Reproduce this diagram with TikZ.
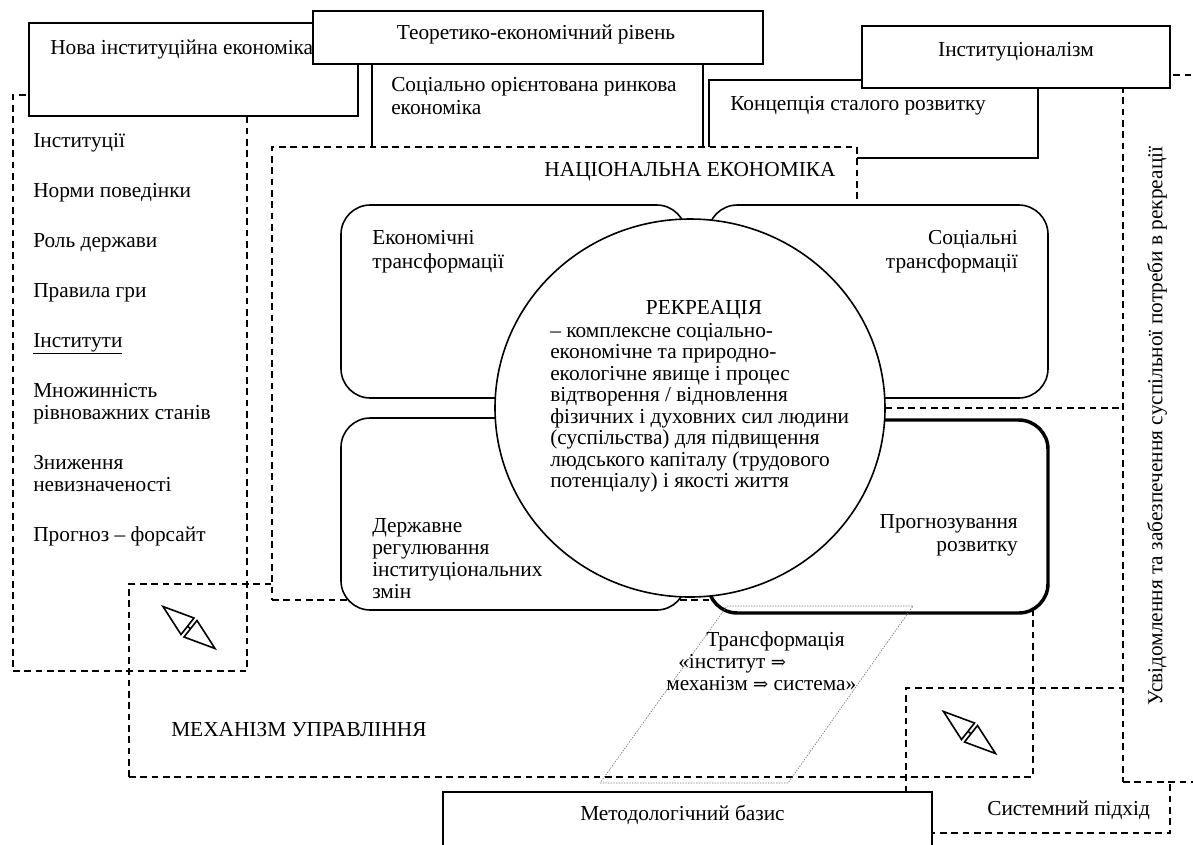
\documentclass[tikz,border=0pt]{standalone}
\usepackage{fontspec}
\setmainfont{Liberation Serif}
\newfontfamily\arrowfont[Scale=0.85]{DejaVu Serif}
\usetikzlibrary{fit,shapes.geometric}
\begin{document}
\begin{tikzpicture}[x=0.75pt,y=-0.75pt,
  txt/.style={font=\fontsize{16}{18}\selectfont, inner sep=0pt},
  area/.style={inner sep=0pt, outer sep=0pt},
  sbox/.style={area, draw=black, fill=white, line width=1.2pt},
  dbox/.style={area, draw=black, line width=1.2pt, dash pattern=on 5pt off 3.5pt},
  dline/.style={draw=black, line width=1.2pt, dash pattern=on 5pt off 3.5pt},
  rbox/.style={area, draw=black, fill=white, line width=1.2pt, rounded corners=22pt},
  pline/.style={draw=black!55, line width=0.5pt, dash pattern=on 1pt off 1pt},
  duo/.pic={
    \draw[line width=1.2pt, line join=miter] (-26,-21) -- (-8,7) -- (5,-9.5) -- cycle;
    \draw[line width=1.2pt, line join=miter] (26,21) -- (8,-7) -- (-5,9.5) -- cycle;
    \draw[line width=1.2pt] (-1.5,-1.25) -- (1.5,1.25);
  }
]
\useasboundingbox (0,0) rectangle (1193,844);
\clip (0,0) rectangle (1193,844);

% dashed frames in the back
\node[dbox, fit={(13,95) (247,671)}] (list) {};
\node[dbox, fit={(129,584) (1033,777)}] (mech) {};
\node[dbox, fit={(906,688) (1170,833)}] (sys) {};
\node[sbox, fit={(443,792) (932,870)}] (meth) {};
\node[dbox, fill=white, fit={(1123,75) (1240,782)}] (usv) {};

% top boxes
\node[sbox, fit={(29,23) (358,116)}] (nova) {};
\node[sbox, fit={(372,40) (703,200)}] (sor) {};
\node[sbox, fit={(313,11) (763,64)}] (teor) {};
\node[sbox, fit={(709,80) (1038,158)}] (konc) {};
\node[sbox, fit={(862,26) (1170,88)}] (inst) {};

% national economy
\node[dbox, fill=white, fit={(272,147) (857,600)}] (ne) {};

% rounded boxes
\node[rbox, fit={(341,205) (686,398)}] (ek) {};
\node[rbox, fit={(708,205) (1048,398)}] (soc) {};
\node[rbox, fit={(341,418) (686,610)}] (derzh) {};
\node[rbox, line width=2.6pt, fit={(708,420) (1048,613)}] (progn) {};

% central ellipse
\node[ellipse, draw=black, fill=white, line width=1.2pt, minimum width=292.5pt, minimum height=283.5pt, inner sep=0pt] (rec) at (690,408) {};
\draw[dline] (rec.east) -- (rec.east -| usv.west);

% parallelogram
\draw[pline] (600,783) -- (788,783) -- (913,606) -- (727,606) -- cycle;

% double arrows
\pic at (189,627.5) {duo};
\pic at (969.5,732.5) {duo};

% texts
\node[txt, anchor=base west] (tnova) at (50,54) {Нова інституційна економіка};
\node[txt, anchor=base] (tteor) at (536,39) {Теоретико-економічний рівень};
\node[txt, anchor=base west] (tsor1) at (391,91) {Соціально орієнтована ринкова};
\node[txt, anchor=base west] (tsor2) at (391,114) {економіка};
\node[txt, anchor=base] (tinst) at (1016,56) {Інституціоналізм};
\node[txt, anchor=base west] (tkonc) at (730,110) {Концепція сталого розвитку};
\node[txt, anchor=base] (tne) at (690,176) {НАЦІОНАЛЬНА ЕКОНОМІКА};

\node[txt, anchor=base west] (l1) at (33,147) {Інституції};
\node[txt, anchor=base west] (l2) at (33,197) {Норми поведінки};
\node[txt, anchor=base west] (l3) at (33,247) {Роль держави};
\node[txt, anchor=base west] (l4) at (33,297) {Правила гри};
\node[txt, anchor=base west] (l5) at (33,347) {\underline{Інститути}};
\node[txt, anchor=base west] (l6a) at (33,397) {Множинність};
\node[txt, anchor=base west] (l6b) at (33,419) {рівноважних станів};
\node[txt, anchor=base west] (l7a) at (33,469) {Зниження};
\node[txt, anchor=base west] (l7b) at (33,491) {невизначеності};
\node[txt, anchor=base west] (l8) at (33,541) {Прогноз – форсайт};

\node[txt, anchor=base west] (tek1) at (372,244) {Економічні};
\node[txt, anchor=base west] (tek2) at (372,268) {трансформації};
\node[txt, anchor=base east] (tsoc1) at (1018,244) {Соціальні};
\node[txt, anchor=base east] (tsoc2) at (1018,268) {трансформації};
\node[txt, anchor=base west] (td1) at (372,532) {Державне};
\node[txt, anchor=base west] (td2) at (372,554) {регулювання};
\node[txt, anchor=base west] (td3) at (372,576) {інституціональних};
\node[txt, anchor=base west] (td4) at (372,598) {змін};
\node[txt, anchor=base east] (tp1) at (1018,528) {Прогнозування};
\node[txt, anchor=base east] (tp2) at (1018,551) {розвитку};

\node[txt, anchor=base] (trec) at (704,314) {РЕКРЕАЦІЯ};
\node[txt, anchor=base west] (r1) at (550,337) {– комплексне соціально-};
\node[txt, anchor=base west] (r2) at (550,358.5) {економічне та природно-};
\node[txt, anchor=base west] (r3) at (550,380) {екологічне явище і процес};
\node[txt, anchor=base west] (r4) at (550,401.5) {відтворення / відновлення};
\node[txt, anchor=base west] (r5) at (550,423) {фізичних і духовних сил людини};
\node[txt, anchor=base west] (r6) at (550,444.5) {(суспільства) для підвищення};
\node[txt, anchor=base west] (r7) at (550,466) {людського капіталу (трудового};
\node[txt, anchor=base west] (r8) at (550,487.5) {потенціалу) і якості життя};

\node[txt, font=\fontsize{16}{16.5}\selectfont, align=left, anchor=north west] (ttr) at (666,631.5)
  {\hspace*{30pt}Трансформація\\\hspace*{9pt}«інститут {\arrowfont ⇒}\\механізм {\arrowfont ⇒} система»};

\node[txt, anchor=base west] (tmech) at (171,736) {МЕХАНІЗМ УПРАВЛІННЯ};
\node[txt, anchor=base west] (tmeth) at (580,820) {Методологічний базис};
\node[txt, anchor=base west] (tsys) at (987,815) {Системний підхід};
\node[txt, rotate=90, anchor=center] (tusv) at (1157,426) {Усвідомлення та забезпечення суспільної потреби в рекреації};
\end{tikzpicture}
\end{document}
